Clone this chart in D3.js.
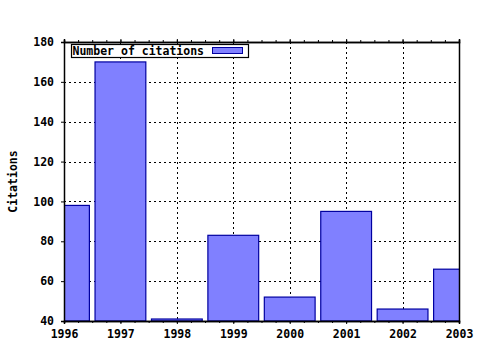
<!DOCTYPE html>
<html>
<head>
<meta charset="utf-8">
<script src="https://cdn.jsdelivr.net/npm/d3@7"></script>
<style>
body { margin: 0; background: #fff; }
text { font-family: "DejaVu Sans Mono", monospace; font-weight: bold; font-size: 11.5px; }
</style>
</head>
<body>
<div id="chart"></div>
<script>
var years = [1996, 1997, 1998, 1999, 2000, 2001, 2002, 2003];
var citations = [98, 170, 41, 83, 52, 95, 46, 66];
var yTicks = [40, 60, 80, 100, 120, 140, 160, 180];
var seriesName = "Number of citations";

var plotLeft = 64, plotRight = 459, plotTop = 42, plotBottom = 321;

var svg = d3.select("#chart").append("svg")
	.attr("width", 480).attr("height", 350);
svg.append("rect").attr("width", 480).attr("height", 350).attr("fill", "#fff");

var x = d3.scaleLinear().domain([1996, 2003]).range([plotLeft, plotRight]);
var y = d3.scaleLinear().domain([40, 180]).range([plotBottom, plotTop]);

svg.append("defs").append("clipPath").attr("id", "plot")
	.append("rect").attr("x", plotLeft).attr("y", plotTop)
	.attr("width", plotRight - plotLeft).attr("height", plotBottom - plotTop);

// grid
var grid = svg.append("g").attr("stroke", "#000").attr("stroke-dasharray", "2,3")
	.attr("shape-rendering", "crispEdges");
years.slice(1, -1).forEach(function(d) {
	grid.append("line").attr("x1", Math.round(x(d)) + 0.5).attr("x2", Math.round(x(d)) + 0.5)
		.attr("y1", plotTop).attr("y2", plotBottom);
});
yTicks.slice(1, -1).forEach(function(d) {
	grid.append("line").attr("y1", Math.round(y(d)) + 0.5).attr("y2", Math.round(y(d)) + 0.5)
		.attr("x1", plotLeft).attr("x2", plotRight);
});

// bars
var barW = (x(1997) - x(1996)) * 0.9;
svg.append("g").attr("clip-path", "url(#plot)")
	.selectAll("rect").data(years).enter().append("rect")
	.attr("x", function(d) { return x(d) - barW / 2; })
	.attr("y", function(d, i) { return y(citations[i]); })
	.attr("width", barW)
	.attr("height", function(d, i) { return plotBottom - y(citations[i]); })
	.attr("fill", "#8080ff").attr("stroke", "#0000a0").attr("stroke-width", 1.2);

// axes
var xMinor = d3.range(1996, 2003.01, 0.25);
var xAxis = d3.axisBottom(x).tickValues(years).tickFormat(d3.format("d")).tickSize(3).tickPadding(6);
var xAxisMinor = d3.axisBottom(x).tickValues(xMinor).tickFormat("").tickSize(2);
var yAxis = d3.axisLeft(y).tickValues(yTicks).tickSize(3).tickPadding(7);

function styleAxis(g) {
	g.select(".domain").attr("stroke", "#000").attr("stroke-width", 1.5);
	g.selectAll(".tick line").attr("stroke", "#000");
	g.selectAll("text").attr("fill", "#000").style("font-size", "11.5px");
}

svg.append("g").attr("transform", "translate(0," + plotBottom + ")").call(xAxisMinor).call(styleAxis);
svg.append("g").attr("transform", "translate(0," + plotBottom + ")").call(xAxis).call(styleAxis);
svg.append("g").attr("transform", "translate(0," + plotTop + ")")
	.call(d3.axisTop(x).tickValues(xMinor).tickFormat("").tickSize(2)).call(styleAxis);
svg.append("g").attr("transform", "translate(0," + plotTop + ")")
	.call(d3.axisTop(x).tickValues(years).tickFormat("").tickSize(3)).call(styleAxis);
svg.append("g").attr("transform", "translate(" + plotLeft + ",0)").call(yAxis).call(styleAxis);
svg.append("g").attr("transform", "translate(" + plotRight + ",0)")
	.call(d3.axisRight(y).tickValues(yTicks).tickFormat("").tickSize(0)).call(styleAxis);

// y label
svg.append("text").attr("transform", "translate(17," + ((plotTop + plotBottom) / 2) + ") rotate(-90)")
	.attr("text-anchor", "middle").text("Citations");

// legend
var lg = svg.append("g");
lg.append("rect").attr("x", 71.5).attr("y", 44.5).attr("width", 177).attr("height", 13)
	.attr("fill", "#fff").attr("stroke", "#000").attr("stroke-width", 1.2);
lg.append("text").attr("x", 72.5).attr("y", 55).text(seriesName);
lg.append("rect").attr("x", 212.5).attr("y", 47.5).attr("width", 30).attr("height", 6)
	.attr("fill", "#8080ff").attr("stroke", "#0000a0");
</script>
</body>
</html>
